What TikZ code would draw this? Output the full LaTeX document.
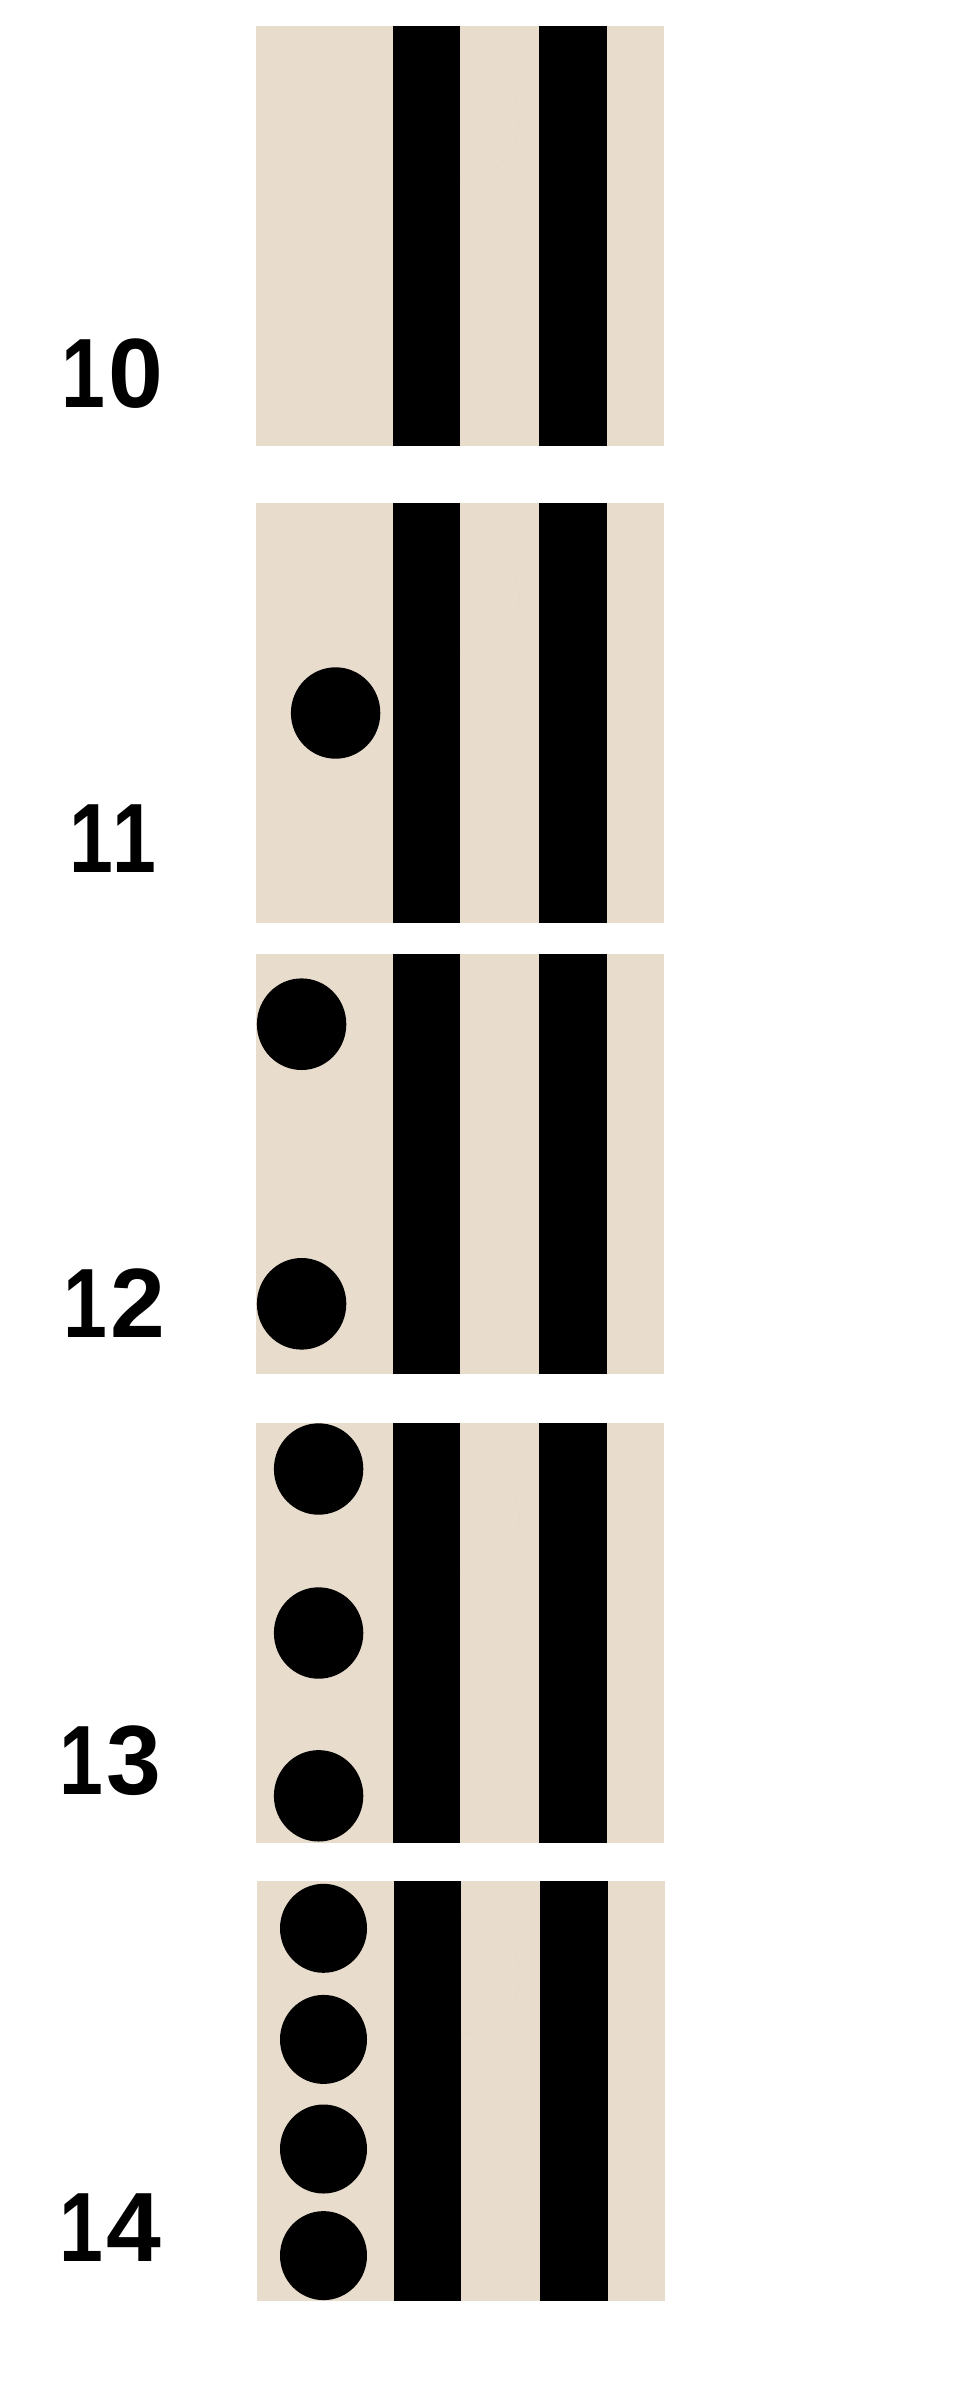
\documentclass[tikz,border=0pt]{standalone}
\usepackage{fontspec}
\usepackage{graphicx}
\setmainfont{Liberation Sans}
\definecolor{beige}{HTML}{E8DCCC}
\definecolor{faint}{HTML}{DED2C2}
\newcommand\onedig{\scalebox{0.8}[1]{1}}
\tikzset{
  lbl/.style={inner sep=0pt, anchor=base, font=\fontsize{98.5}{100}\selectfont\bfseries},
  dot/.style={fill=black},
  ghost/.style={draw=faint, line width=0.6pt, dotted}
}
\begin{document}
\begin{tikzpicture}[x=1pt,y=-1pt]
\useasboundingbox[fill=white] (0,0) rectangle (972,2400);
% panel 1
\fill[beige] (255.6,25.7) rectangle (664.4,445.7);
\fill[black] (393.2,25.7) rectangle (460.2,445.7);
\fill[black] (539.3,25.7) rectangle (607.2,445.7);
\draw[ghost] (460.2,178.3) arc[start angle=90,end angle=-90,x radius=59,y radius=57.5];
\node[lbl] (l10) at (112.2,407.3) {\onedig\kern3pt0};
% panel 2
\fill[beige] (255.6,502.7) rectangle (664.4,922.7);
\fill[black] (393.2,502.7) rectangle (460.2,922.7);
\fill[black] (539.3,502.7) rectangle (607.2,922.7);
\draw[ghost] (460.2,655) arc[start angle=90,end angle=-90,x radius=59,y radius=57.5];
\fill[dot] (335.6,713) ellipse[x radius=44.7,y radius=45.7];
\node[lbl] (l11) at (112.9,872) {\onedig\onedig};
% panel 3
\fill[beige] (255.6,954) rectangle (664.4,1373.7);
\fill[black] (393.2,954) rectangle (460.2,1373.7);
\fill[black] (539.3,954) rectangle (607.2,1373.7);
\fill[dot] (301.6,1024.2) ellipse[x radius=44.7,y radius=45.8];
\fill[dot] (301.6,1303.8) ellipse[x radius=44.7,y radius=45.8];
\node[lbl] (l12) at (114,1337.3) {\onedig\kern3pt2};
% panel 4
\fill[beige] (255.6,1422.7) rectangle (664.4,1842.7);
\fill[black] (393.2,1422.7) rectangle (460.2,1842.7);
\fill[black] (539.3,1422.7) rectangle (607.2,1842.7);
\draw[ghost] (460.2,1575) arc[start angle=90,end angle=-90,x radius=59,y radius=57.5];
\fill[dot] (318.6,1469) ellipse[x radius=44.7,y radius=45.7];
\fill[dot] (318.6,1633) ellipse[x radius=44.7,y radius=45.7];
\fill[dot] (318.6,1795.8) ellipse[x radius=44.7,y radius=45.7];
\node[lbl] (l13) at (110.4,1794) {\onedig\kern3pt3};
% panel 5
\fill[beige] (257.1,1881) rectangle (665.2,2300.5);
\fill[black] (394.2,1881) rectangle (461.2,2300.5);
\fill[black] (540.2,1881) rectangle (608,2300.5);
\draw[ghost] (461.2,2033.7) arc[start angle=90,end angle=-90,x radius=59,y radius=57.6];
\fill[dot] (323.5,1928.3) ellipse[x radius=43.5,y radius=44.5];
\fill[dot] (323.5,2039.4) ellipse[x radius=43.5,y radius=44.5];
\fill[dot] (323.5,2149) ellipse[x radius=43.5,y radius=44.5];
\fill[dot] (323.5,2255.6) ellipse[x radius=43.5,y radius=44.5];
\node[lbl] (l14) at (110,2261.4) {\onedig\kern3pt4};
\end{tikzpicture}
\end{document}
